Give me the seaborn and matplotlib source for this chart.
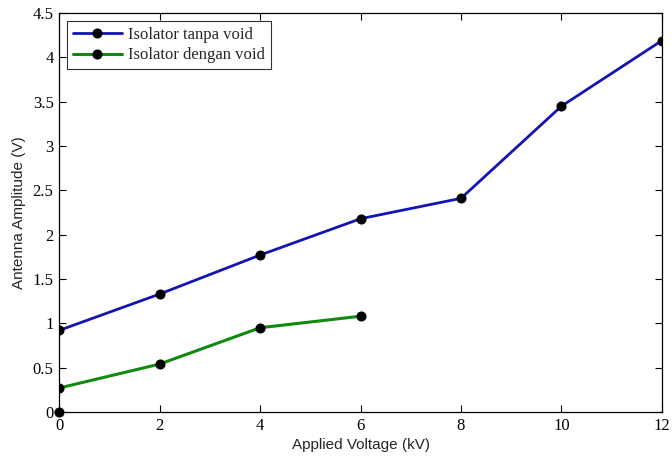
import matplotlib
matplotlib.use("Agg")
import matplotlib.pyplot as plt
import seaborn as sns
import pandas as pd
from matplotlib.ticker import FuncFormatter

voltage_blue = [0, 2, 4, 6, 8, 10, 12]
amp_blue = [0.92, 1.33, 1.77, 2.18, 2.41, 3.45, 4.19]
voltage_green = [0, 2, 4, 6]
amp_green = [0.27, 0.54, 0.95, 1.08]
extra_x = [0]
extra_y = [0]
labels = ["Isolator tanpa void", "Isolator dengan void"]

sns.set_theme(style="white")
plt.rcParams['font.family'] = ['Liberation Serif', 'DejaVu Serif']

df_b = pd.DataFrame({"x": voltage_blue, "y": amp_blue})
df_g = pd.DataFrame({"x": voltage_green, "y": amp_green})
df_e = pd.DataFrame({"x": extra_x, "y": extra_y})

fig = plt.figure(figsize=(6.72, 4.59), dpi=100)
ax = fig.add_axes([0.088, 0.1025, 0.897, 0.869])

blue = "#1414b4"
green = "#108a10"
sns.lineplot(data=df_b, x="x", y="y", ax=ax, color=blue, lw=2.0,
             marker="o", markersize=6.5, markerfacecolor="black",
             markeredgecolor="black", label=labels[0])
sns.lineplot(data=df_g, x="x", y="y", ax=ax, color=green, lw=2.2,
             marker="o", markersize=6.5, markerfacecolor="black",
             markeredgecolor="black", label=labels[1])
sns.scatterplot(data=df_e, x="x", y="y", ax=ax, color="black", s=45,
                edgecolor="black", zorder=5, clip_on=False)

ax.set_xlim(0, 12)
ax.set_ylim(0, 4.5)
ax.set_xticks([0, 2, 4, 6, 8, 10, 12])
ax.set_yticks([0, 0.5, 1, 1.5, 2, 2.5, 3, 3.5, 4, 4.5])
ax.yaxis.set_major_formatter(FuncFormatter(lambda v, p: ("%g" % v)))
ax.tick_params(direction="in", length=5, width=0.8, top=True, right=True,
               bottom=True, left=True, labelsize=12, colors="black", pad=4)
for t in ax.get_xticklabels() + ax.get_yticklabels():
    t.set_fontfamily(['Liberation Serif'])
for s in ax.spines.values():
    s.set_color("black")
    s.set_linewidth(0.9)

ax.set_xlabel("Applied Voltage (kV)", fontfamily=['Liberation Sans'], fontsize=11, labelpad=3)
ax.set_ylabel("Antenna Amplitude (V)", fontfamily=['Liberation Sans'], fontsize=11, labelpad=5)

leg = ax.legend(loc="upper left", fontsize=12, frameon=True, fancybox=False,
                edgecolor="black", borderaxespad=0.5, handlelength=2.9,
                borderpad=0.35, labelspacing=0.25, handletextpad=0.4)
leg.get_frame().set_linewidth(0.8)
for t in leg.get_texts():
    t.set_fontfamily(['Liberation Serif'])

fig.savefig("out.png", dpi=100)
